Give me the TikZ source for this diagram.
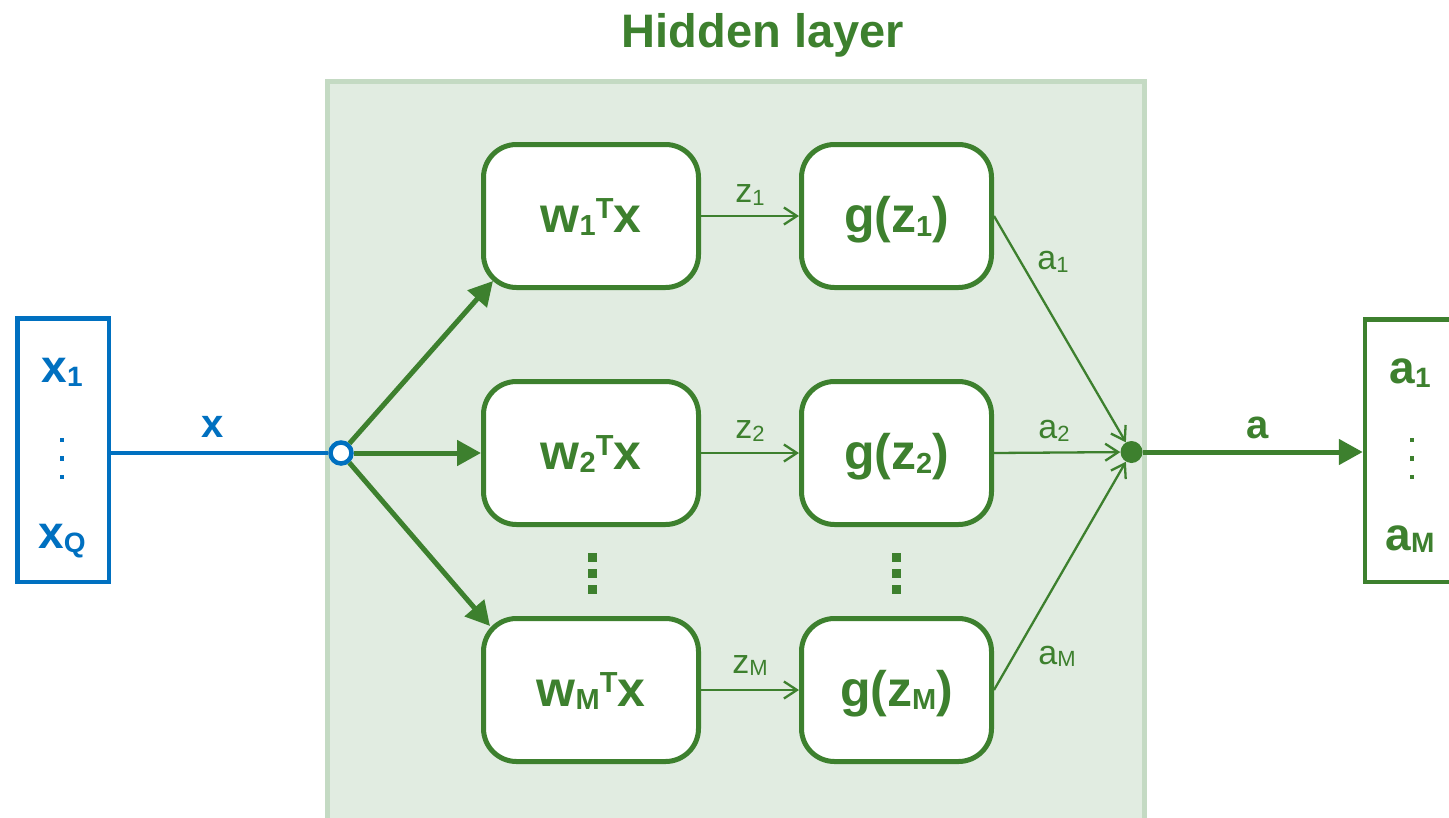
\documentclass[tikz,border=0pt]{standalone}
\usepackage{fontspec}
\setmainfont{Liberation Sans}
\usetikzlibrary{arrows.meta,calc}

\definecolor{netgreen}{RGB}{61,128,46}
\definecolor{netblue}{RGB}{0,112,192}
\definecolor{layerfill}{RGB}{225,236,225}
\definecolor{layerrule}{RGB}{196,218,195}

% font size helper and lowered / raised indices
\newcommand{\fs}[1]{\fontsize{#1}{#1}\selectfont}
\newcommand{\lowr}[3]{\raisebox{-#2pt}{\fs{#1}#3}}
\newcommand{\highr}[3]{\raisebox{#2pt}{\fs{#1}#3}}

\tikzset{
  unit/.style={draw=netgreen, line width=5pt, fill=white, rounded corners=33pt,
    minimum height=143pt, inner sep=0pt, text height=32pt, text depth=0pt,
    font=\fs{50}\bfseries, text=netgreen},
  wunit/.style={unit, minimum width=215pt},
  gunit/.style={unit, minimum width=190pt},
  iobox/.style={line width=4.5pt, inner sep=0pt, fill=white},
  bigtext/.style={font=\fs{46}\bfseries, anchor=base, inner sep=0pt},
  edgelbl/.style={font=\fs{34}, text=netgreen, anchor=base, inner sep=0pt},
  vlbl/.style={font=\fs{40}\bfseries, anchor=base, inner sep=0pt},
  heavy/.style={draw=netgreen, line width=5pt, -{Triangle[length=24pt,width=25pt]}},
  light/.style={draw=netgreen, line width=2.3pt, -{Straight Barb[length=13pt,width=17pt]}},
}

\begin{document}
\begin{tikzpicture}[x=1pt,y=-1pt]
\useasboundingbox (0,0) rectangle (1449,817);
\clip (0,0) rectangle (1449,817);

% hidden layer panel and its title
\draw[layerrule, fill=layerfill, line width=5pt] (327.5,81.5) rectangle (1144.5,840);
\node[font=\fs{47}\bfseries, text=netgreen, anchor=base, inner sep=0pt] (title) at (763,47) {Hidden layer};

% input vector
\node[iobox, draw=netblue, minimum width=91.5pt, minimum height=263.5pt] (inbox) at (63,450) {};
\node[bigtext, text=netblue] (x1) at (62,382) {x\lowr{28}{4}{1}};
\node[bigtext, text=netblue] (xQ) at (62,548) {x\lowr{28}{4}{Q}};
\foreach \yy in {440,458.5,477} {\fill[netblue] (62-2.3,\yy-2.3) rectangle ++(4.6,4.6);}

% output vector
\node[iobox, draw=netgreen, minimum width=105pt, minimum height=262.5pt] (outbox) at (1417.5,450.5) {};
\node[bigtext, text=netgreen] (a1) at (1410,383) {a\lowr{28}{4}{1}};
\node[bigtext, text=netgreen] (aM) at (1410,550) {a\lowr{28}{2}{M}};
\foreach \yy in {440,458.5,477} {\fill[netgreen] (1412-2.3,\yy-2.3) rectangle ++(4.6,4.6);}

% hidden units
\node[wunit] (w1) at (591,216) {w\lowr{29}{3}{1}\highr{29}{14}{T}x};
\node[wunit] (w2) at (591,453) {w\lowr{29}{3}{2}\highr{29}{14}{T}x};
\node[wunit] (wM) at (591,690) {w\lowr{29}{3}{M}\highr{29}{14}{T}x};
\node[gunit] (g1) at (896.5,216) {g(z\lowr{29}{4}{1})};
\node[gunit] (g2) at (896.5,453) {g(z\lowr{29}{4}{2})};
\node[gunit] (gM) at (896.5,690) {g(z\lowr{29}{3}{M})};
\foreach \xx in {592,896.5} {
  \foreach \yy in {557,573,589} {\fill[netgreen] (\xx-4.5,\yy-4.5) rectangle ++(9,9);}
}

% split and merge points
\node[circle, draw=netblue, fill=white, line width=4.5pt, minimum size=21pt, inner sep=0pt] (in) at (341,453) {};
\node[circle, fill=netgreen, minimum size=22pt, inner sep=0pt] (dot) at (1131.5,452) {};

% input connector
\draw[netblue, line width=4.5pt] (in) -- (in -| inbox.east)
  node[vlbl, text=netblue, pos=0.53, yshift=16pt] {x};

% fan-out to the weighted sums
\draw[heavy] (in) -- ($(w1.south west)+(12,-9)$);
\draw[heavy] (in) -- (w2);
\draw[heavy] (in) -- ($(wM.north west)+(9,10)$);

% weighted sums to activations
\draw[light] (w1) -- node[edgelbl, yshift=14pt] {z\lowr{22}{3}{1}} (g1);
\draw[light] (w2) -- node[edgelbl, yshift=15pt] {z\lowr{22}{3}{2}} (g2);
\draw[light] (wM) -- node[edgelbl, yshift=17pt] {z\lowr{22}{2}{M}} (gM);

% activations merged into the output
\draw[light] (g1.east) -- (dot);
\draw[light] (g2.east) -- (dot);
\draw[light] (gM.east) -- (dot);
\node[edgelbl] (la1) at (1053,269) {a\lowr{22}{3}{1}};
\node[edgelbl] (la2) at (1054,438) {a\lowr{22}{3}{2}};
\node[edgelbl] (laM) at (1057,664) {a\lowr{22}{2}{M}};

\draw[heavy] (dot) -- (dot -| outbox.west)
  node[vlbl, text=netgreen, pos=0.52, yshift=14pt] {a};
\end{tikzpicture}
\end{document}
